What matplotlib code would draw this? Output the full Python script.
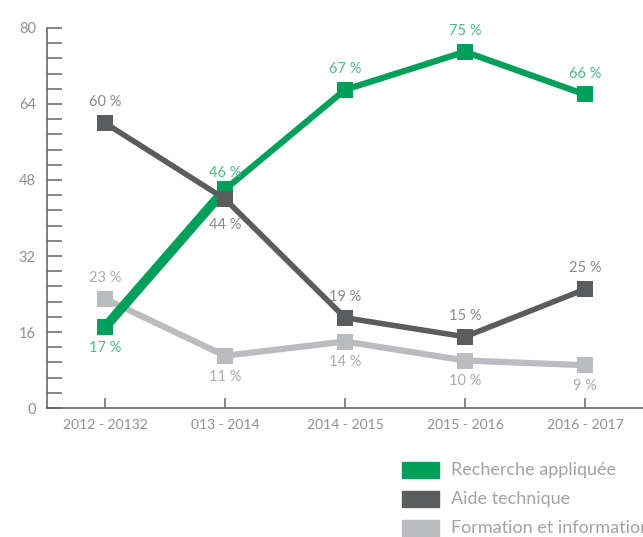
import matplotlib
matplotlib.use("Agg")
import matplotlib.pyplot as plt
from matplotlib.patches import Rectangle
from matplotlib.ticker import MultipleLocator

plt.rcParams['font.family'] = ['Lato', 'DejaVu Sans']

periods = ["2012 - 20132", "013 - 2014", "2014 - 2015", "2015 - 2016", "2016 - 2017"]
recherche = [17, 46, 67, 75, 66]
aide = [60, 44, 19, 15, 25]
formation = [23, 11, 14, 10, 9]

series_names = ["Recherche appliquée", "Aide technique", "Formation et information"]
line_colors = ["#00a05a", "#5b5c5e", "#bbbcbf"]
label_colors = ["#4cbd86", "#8a8a8a", "#ababab"]
# label offset in points (positive = above the marker)
recherche_off = [-15, 12, 15, 15, 15]
aide_off = [15, -19, 15, 15, 15]
formation_off = [15, -15, -15, -15, -15]

fig = plt.figure(figsize=(6.43, 5.37), dpi=100)
ax = fig.add_axes([47 / 643, 1 - 408 / 537, 596 / 643, 380 / 537])

x = list(range(len(periods)))
# drawing order: light grey, green, dark grey on top
order = [(formation, formation_off, 2, 4.5), (recherche, recherche_off, 0, 4.5),
         (aide, aide_off, 1, 4.0)]
for k, (vals, offs, i, lw) in enumerate(order):
    ax.plot(x, vals, color=line_colors[i], lw=lw, marker="s", ms=12.2,
            markeredgewidth=0, zorder=3 + k)
    if i == 0:
        # first green segment is drawn heavier in the original
        ax.plot(x[:2], vals[:2], color=line_colors[i], lw=7, zorder=3 + k)
    for xi, v, off in zip(x, vals, offs):
        ax.annotate(f"{v} %", (xi, v), xytext=(0, off), textcoords="offset points",
                    ha="center", va="center", fontsize=10.5, color=label_colors[i],
                    zorder=10)

ax.set_xlim(-0.483, 4.483)
ax.set_ylim(0, 80)
ax.set_xticks(x)
ax.set_xticklabels(periods)
ax.yaxis.set_major_locator(MultipleLocator(16))
ax.yaxis.set_minor_locator(MultipleLocator(3.2))

for s in ["top", "right"]:
    ax.spines[s].set_visible(False)
for s in ["left", "bottom"]:
    ax.spines[s].set_color("#666666")
    ax.spines[s].set_linewidth(1.2)

ax.tick_params(axis="y", which="both", direction="in", length=11, width=1.1,
               color="#666666", labelsize=10.5, labelcolor="#909090", pad=8)
ax.tick_params(axis="x", direction="in", length=7, width=1.1, color="#666666",
               labelsize=10, labelcolor="#909090", pad=8)

# legend drawn in figure pixels
legend_y = [470, 499, 528]
for name, c, yy in zip(series_names, line_colors, legend_y):
    fig.patches.append(Rectangle((402 / 643, 1 - (yy + 8) / 537), 37 / 643, 16 / 537,
                                 transform=fig.transFigure, color=c))
    fig.text(451 / 643, 1 - yy / 537, name, fontsize=13, color="#a3a3a3",
             va="center", ha="left")

fig.savefig("out.png", dpi=100)
